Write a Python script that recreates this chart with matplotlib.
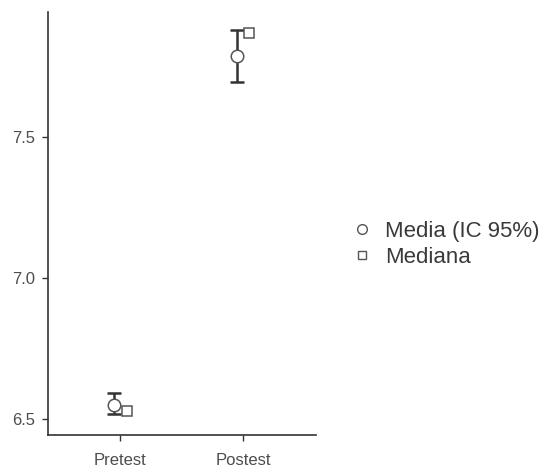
import matplotlib.pyplot as plt

plt.rcParams['font.family'] = ['Liberation Sans', 'DejaVu Sans']

groups = ['Pretest', 'Postest']
media = [6.55, 7.787]
ic_low = [6.518, 7.695]
ic_high = [6.592, 7.879]
mediana = [6.528, 7.869]

fig = plt.figure(figsize=(5.41, 4.70), dpi=100)
ax = fig.add_axes([0.0887, 0.0745, 0.495, 0.90])

x = [1, 2]
xm = [v - 0.05 for v in x]
xd = [v + 0.05 for v in x]
err = [[m - lo for m, lo in zip(media, ic_low)], [hi - m for m, hi in zip(media, ic_high)]]

ax.errorbar(xm, media, yerr=err, fmt='none', ecolor='#333333', elinewidth=1.8,
            capsize=5, capthick=1.8, zorder=2)
ax.plot(xm, media, 'o', markersize=9, markerfacecolor='white', markeredgecolor='#555555',
        markeredgewidth=1.1, linestyle='none', label='Media (IC 95%)', zorder=3)
ax.plot(xd, mediana, 's', markersize=7, markerfacecolor='white', markeredgecolor='#555555',
        markeredgewidth=1.1, linestyle='none', label='Mediana', zorder=3)

ax.set_xlim(0.41, 2.59)
ax.set_ylim(6.443, 7.943)
ax.set_xticks(x)
ax.set_xticklabels(groups)
ax.set_yticks([6.5, 7.0, 7.5])
ax.set_yticklabels(['6.5', '7.0', '7.5'])

for s in ['top', 'right']:
    ax.spines[s].set_visible(False)
for s in ['left', 'bottom']:
    ax.spines[s].set_color('#333333')
    ax.spines[s].set_linewidth(1.2)
ax.tick_params(colors='#333333', labelcolor='#4d4d4d', labelsize=12, length=4, width=1)
ax.tick_params(axis='y', pad=5)
ax.tick_params(axis='x', pad=9)

h2 = [
    plt.Line2D([], [], marker='o', linestyle='none', markersize=7,
               markerfacecolor='white', markeredgecolor='#555555', markeredgewidth=1),
    plt.Line2D([], [], marker='s', linestyle='none', markersize=6,
               markerfacecolor='white', markeredgecolor='#555555', markeredgewidth=1),
]
fig.legend(h2, ['Media (IC 95%)', 'Mediana'], loc='center left',
           bbox_to_anchor=(0.628, 0.48), frameon=False, borderpad=0,
           fontsize=16, handlelength=1.0, handletextpad=0.55,
           labelspacing=0.22, labelcolor='#3a3a3a')

fig.savefig('out.png', dpi=100)
